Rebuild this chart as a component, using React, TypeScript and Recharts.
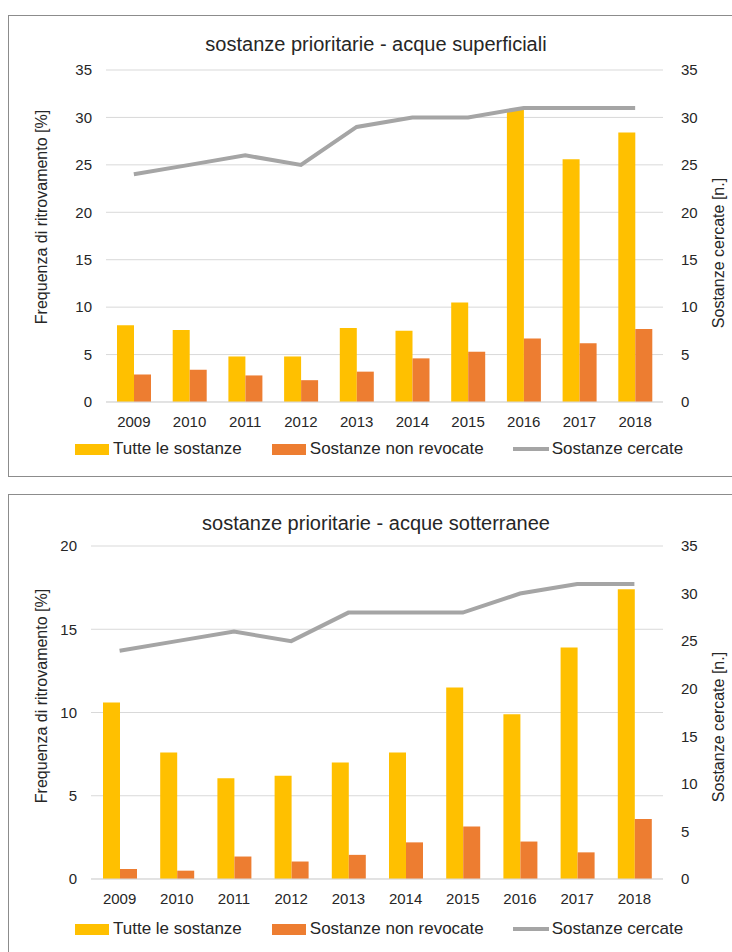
import React from "react";
import { ComposedChart, Bar, Line, XAxis, YAxis, CartesianGrid } from "recharts";

const years = ["2009", "2010", "2011", "2012", "2013", "2014", "2015", "2016", "2017", "2018"];

// acque superficiali
const supTutte = [8.1, 7.6, 4.8, 4.8, 7.8, 7.5, 10.5, 30.8, 25.6, 28.4];
const supNonRevocate = [2.9, 3.4, 2.8, 2.3, 3.2, 4.6, 5.3, 6.7, 6.2, 7.7];
const supCercate = [24, 25, 26, 25, 29, 30, 30, 31, 31, 31];

// acque sotterranee
const sotTutte = [10.6, 7.6, 6.05, 6.2, 7.0, 7.6, 11.5, 9.9, 13.9, 17.4];
const sotNonRevocate = [0.6, 0.5, 1.35, 1.05, 1.45, 2.2, 3.15, 2.25, 1.6, 3.6];
const sotCercate = [24, 25, 26, 25, 28, 28, 28, 30, 31, 31];

const supLeftTicks = [0, 5, 10, 15, 20, 25, 30, 35];
const sotLeftTicks = [0, 5, 10, 15, 20];
const rightTicks = [0, 5, 10, 15, 20, 25, 30, 35];

const seriesNames = ["Tutte le sostanze", "Sostanze non revocate", "Sostanze cercate"];

const YELLOW = "#FFC000";
const ORANGE = "#ED7D31";
const GREY = "#A5A5A5";
const GRID = "#D9D9D9";
const TEXT = "#262626";
const FONT = "'Liberation Sans', Arial, sans-serif";

const AxisTitle = (props: any) => (
  <text
    x={props.px}
    y={props.py}
    transform={`rotate(-90, ${props.px}, ${props.py})`}
    textAnchor="middle"
    dominantBaseline="central"
    fontSize={16}
    fill={TEXT}
    fontFamily={FONT}
  >
    {props.text}
  </text>
);

const LegendRow = ({ top }: { top: number }) => (
  <div
    style={{
      position: "absolute",
      top,
      left: 75,
      display: "flex",
      alignItems: "center",
      fontFamily: FONT,
      fontSize: 17,
      color: TEXT,
      whiteSpace: "nowrap",
      lineHeight: "20px",
    }}
  >
    <span style={{ display: "inline-block", width: 34, height: 11, background: YELLOW, marginRight: 4 }} />
    <span style={{ marginRight: 30 }}>{seriesNames[0]}</span>
    <span style={{ display: "inline-block", width: 34, height: 11, background: ORANGE, marginRight: 4 }} />
    <span style={{ marginRight: 29 }}>{seriesNames[1]}</span>
    <span style={{ display: "inline-block", width: 36, height: 4, background: GREY, marginRight: 3 }} />
    <span>{seriesNames[2]}</span>
  </div>
);

type PanelProps = {
  title: string;
  tutte: number[];
  nonRevocate: number[];
  cercate: number[];
  leftTicks: number[];
  top: number;
  height: number;
  plotTop: number;
  plotBottom: number;
  plotLeft: number;
  leftLabelY: number;
  rightLabelY: number;
  titleY: number;
};

const Panel = (p: PanelProps) => {
  const data = years.map((y, i) => ({
    year: y,
    tutte: p.tutte[i],
    nonRevocate: p.nonRevocate[i],
    cercate: p.cercate[i],
  }));
  const leftMax = p.leftTicks[p.leftTicks.length - 1];
  const tickStyle = { fontSize: 15, fill: TEXT, fontFamily: FONT };
  return (
    <div style={{ position: "absolute", left: 0, top: p.top, width: 732, height: p.height }}>
      <div
        style={{
          position: "absolute",
          top: p.titleY - 12,
          left: 0,
          width: 752,
          textAlign: "center",
          fontFamily: FONT,
          fontSize: 20,
          color: TEXT,
          lineHeight: "24px",
        }}
      >
        {p.title}
      </div>
      <ComposedChart
        width={732}
        height={p.height}
        data={data}
        margin={{ top: p.plotTop, right: 0, bottom: p.height - p.plotBottom - 30, left: 0 }}
        barGap={0}
        barSize={17}
        style={{ position: "absolute", top: 0, left: 0 }}
      >
        <CartesianGrid yAxisId="left" vertical={false} stroke={GRID} strokeWidth={1} />
        <XAxis
          dataKey="year"
          height={30}
          axisLine={{ stroke: GRID }}
          tickLine={false}
          tickMargin={8}
          tick={tickStyle}
          interval={0}
        />
        <YAxis
          yAxisId="left"
          width={p.plotLeft}
          domain={[0, leftMax]}
          ticks={p.leftTicks}
          axisLine={false}
          tickLine={false}
          tickMargin={8}
          tick={tickStyle}
          label={<AxisTitle px={41} py={p.leftLabelY} text="Frequenza di ritrovamento  [%]" />}
        />
        <YAxis
          yAxisId="right"
          orientation="right"
          width={69}
          domain={[0, 35]}
          ticks={rightTicks}
          axisLine={false}
          tickLine={false}
          tickMargin={12}
          tick={{ ...tickStyle, textAnchor: "start" }}
          label={<AxisTitle px={718} py={p.rightLabelY} text="Sostanze cercate [n.]" />}
        />
        <Bar yAxisId="left" dataKey="tutte" name={seriesNames[0]} fill={YELLOW} isAnimationActive={false} />
        <Bar yAxisId="left" dataKey="nonRevocate" name={seriesNames[1]} fill={ORANGE} isAnimationActive={false} />
        <Line
          yAxisId="right"
          type="linear"
          dataKey="cercate"
          name={seriesNames[2]}
          stroke={GREY}
          strokeWidth={4}
          dot={false}
          activeDot={false}
          isAnimationActive={false}
        />
      </ComposedChart>
      <LegendRow top={439} />
    </div>
  );
};

export default function App() {
  return (
    <div
      style={{
        position: "absolute",
        left: 0,
        top: 0,
        width: 732,
        height: 952,
        overflow: "hidden",
        background: "#fff",
        fontFamily: FONT,
      }}
    >
      <div
        style={{
          position: "absolute",
          left: 8,
          top: 15,
          width: 800,
          height: 460,
          border: "1.5px solid #8c8c8c",
        }}
      />
      <div
        style={{
          position: "absolute",
          left: 8,
          top: 494,
          width: 800,
          height: 600,
          border: "1.5px solid #8c8c8c",
        }}
      />
      <Panel
        title="sostanze prioritarie - acque superficiali"
        tutte={supTutte}
        nonRevocate={supNonRevocate}
        cercate={supCercate}
        leftTicks={supLeftTicks}
        top={0}
        height={480}
        plotTop={70}
        plotBottom={402}
        plotLeft={106}
        leftLabelY={217}
        rightLabelY={253}
        titleY={44}
      />
      <Panel
        title="sostanze prioritarie - acque sotterranee"
        tutte={sotTutte}
        nonRevocate={sotNonRevocate}
        cercate={sotCercate}
        leftTicks={sotLeftTicks}
        top={480}
        height={472}
        plotTop={66}
        plotBottom={399}
        plotLeft={91}
        leftLabelY={216}
        rightLabelY={247}
        titleY={43}
      />
    </div>
  );
}
